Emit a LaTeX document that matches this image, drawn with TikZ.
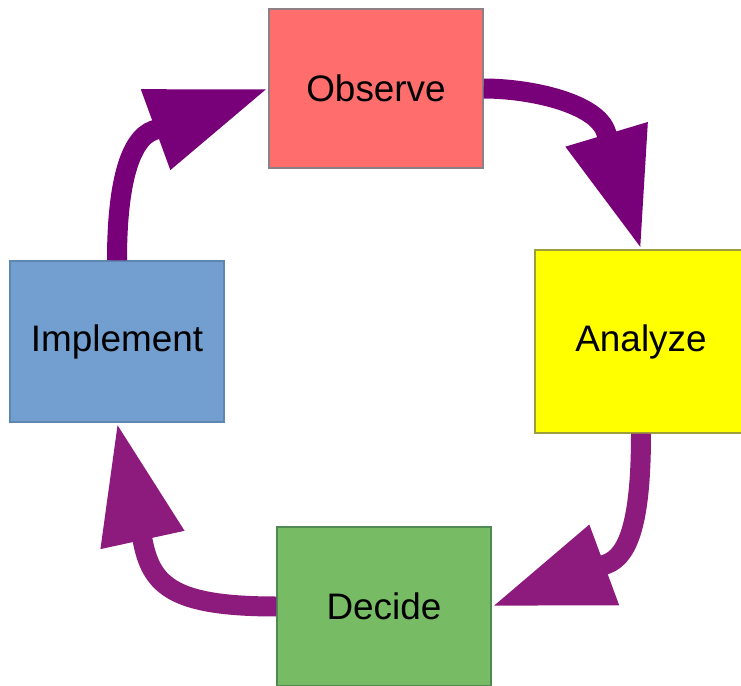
\documentclass[tikz,border=0pt]{standalone}
\usepackage{fontspec}
\setmainfont{Liberation Sans}
\usetikzlibrary{arrows.meta,calc}
\definecolor{obsred}{HTML}{FF6D6D}
\definecolor{anayellow}{HTML}{FFFF00}
\definecolor{impblue}{HTML}{729FCF}
\definecolor{decgreen}{HTML}{77BC65}
\definecolor{obsline}{HTML}{8E7F86}
\definecolor{analine}{HTML}{9E9E3A}
\definecolor{impline}{HTML}{5E86AE}
\definecolor{decline}{HTML}{4F8A55}
\definecolor{plum}{HTML}{780078}
\definecolor{berry}{HTML}{8D1A7D}
\begin{document}
\begin{tikzpicture}[x=0.02cm,y=-0.02cm,font=\fontsize{21}{25}\selectfont,
    stage/.style={rectangle,draw=#1,line width=0.03cm,inner sep=0pt,
                  minimum width=4.28cm,minimum height=3.18cm},
    flow/.style={line width=0.4cm,-{Triangle[length=2.4cm,width=1.6cm]}}]
  \useasboundingbox (0,0) rectangle (741,686);
  \clip (0,0) rectangle (741,686);
  % the four stages
  \node[stage=obsline,fill=obsred] (obs) at (376,88.5) {Observe};
  \node[stage=analine,fill=anayellow,minimum width=4.24cm,minimum height=3.66cm]
    (ana) at (641,341.5) {Analyze};
  \node[stage=impline,fill=impblue,minimum height=3.22cm] (imp) at (117,341.5) {Implement};
  \node[stage=decline,fill=decgreen] (dec) at (384,606.5) {Decide};
  % bent arrows round the loop
  \draw[flow,plum] (obs.east) .. controls +(47,0) and ($(ana.north)+(-44,-146)$)
    .. ($(ana.north)+(-35,-117)$) -- (ana.north);
  \draw[flow,berry] (ana.south) .. controls +(0,82) and ($(dec.east)+(138.5,-51)$)
    .. ($(dec.east)+(115,-42.5)$) -- (dec.east);
  \draw[flow,berry] (dec.west) .. controls +(-102,0) and ($(imp.south)+(35,163.5)$)
    .. ($(imp.south)+(26,119.5)$) -- (imp.south);
  \draw[flow,plum] (imp.north) .. controls +(0,-76) and ($(obs.west)+(-138.5,50.5)$)
    .. ($(obs.west)+(-115,42)$) -- (obs.west);
\end{tikzpicture}
\end{document}
